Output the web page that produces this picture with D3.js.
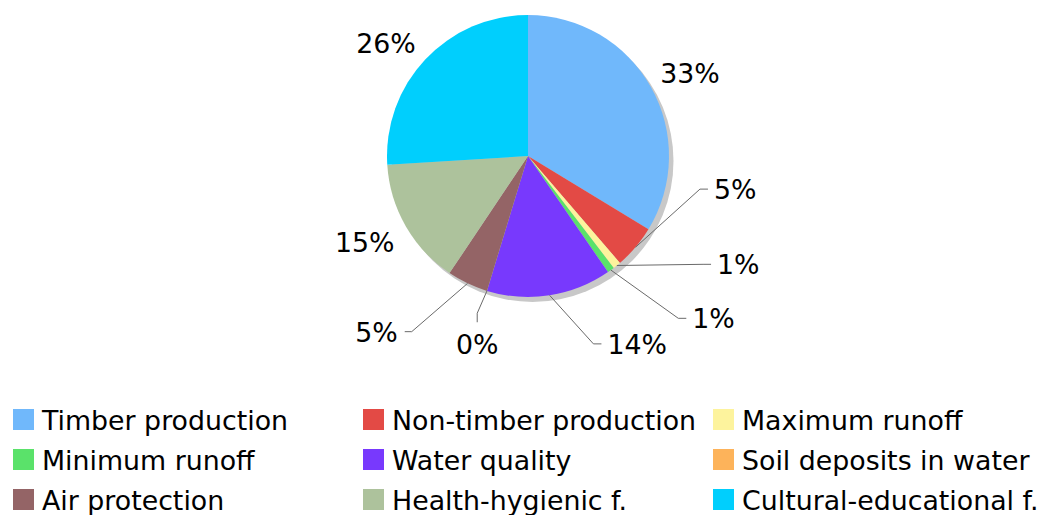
<!DOCTYPE html>
<html><head><meta charset="utf-8">
<script src="https://cdn.jsdelivr.net/npm/d3@7"></script>
<style>html,body{margin:0;padding:0;background:#fff;} svg{display:block;}</style>
</head><body><svg id="c" width="1043" height="515"></svg>
<script>
// ---- data ----
const categories = ["Timber production","Non-timber production","Maximum runoff","Minimum runoff","Water quality","Soil deposits in water","Air protection","Health-hygienic f.","Cultural-educational f."];
const values = [33.7, 5.0, 0.9, 0.8, 14.3, 0.0, 4.7, 14.6, 26.0];
const valueLabels = ["33%","5%","1%","1%","14%","0%","5%","15%","26%"];
const colors = ["#70b8fb","#e34a45","#fdf39d","#5ae26a","#7839fd","#fdb35a","#946466","#adc29c","#00cffd"];

// ---- label layout (presentation only) ----
const labelPlacement = [
  {mode:"plain"},
  {mode:"leader", angle:100.9, k:1.242, tail:"right"},
  {mode:"leader", angle:121.75, k:1.46, tail:"right"},
  {mode:"leader", angle:137.2, k:1.569, tail:"right"},
  {mode:"leader", angle:160.8, k:1.411, tail:"right"},
  {mode:"leader", angle:197.9, k:1.172, tail:"down"},
  {mode:"leader", angle:213.5, k:1.494, tail:"left"},
  {mode:"plain"},
  {mode:"plain"}
];

const W = 1043, H = 515;
const cx = 528, cy = 156, R = 141;
const FONT = "DejaVu Sans, Verdana, sans-serif";
const FS = 26.8;
const svg = d3.select("#c");

const pie = d3.pie().sort(null).value(d => d);
const arcs = pie(values);
const arc = d3.arc().innerRadius(0).outerRadius(R);

const g = svg.append("g").attr("transform", `translate(${cx},${cy})`);
// shadow
g.append("circle").attr("cx", 4.5).attr("cy", 5).attr("r", R).attr("fill", "#c8c8c8");
g.selectAll("path.slice").data(arcs.filter(d => d.value > 0)).enter().append("path")
  .attr("class","slice")
  .attr("d", arc)
  .attr("fill", d => colors[d.index]);

function pt(deg, rad) {
  const a = deg * Math.PI / 180;
  return [rad * Math.sin(a), -rad * Math.cos(a)];
}

const lab = svg.append("g").attr("transform", `translate(${cx},${cy})`)
  .style("font-family", FONT).style("font-size", FS + "px");

arcs.forEach((d, i) => {
  const mid = (d.startAngle + d.endAngle) / 2 * 180 / Math.PI;
  const p = labelPlacement[i];
  if (p.mode === "plain") {
    const [x, y] = pt(mid, 154);
    const right = Math.sin(mid * Math.PI / 180) > 0;
    const upper = Math.cos(mid * Math.PI / 180) > 0;
    lab.append("text").attr("x", right ? x - 2 : x).attr("y", upper ? y + 2 : y + 19.5)
      .attr("text-anchor", right ? "start" : "end").attr("fill", "#000")
      .text(valueLabels[i]);
  } else {
    const s = pt(mid, R);
    const e = pt(p.angle, p.k * R);
    let t, tx, ty, anchor;
    if (p.tail === "right") { t = [e[0] + 8, e[1]]; tx = t[0] + 6; ty = e[1] + 10; anchor = "start"; }
    else if (p.tail === "left") { t = [e[0] - 7, e[1]]; tx = t[0] - 7; ty = e[1] + 10; anchor = "end"; }
    else { t = [e[0], e[1] + 9]; tx = e[0]; ty = t[1] + 12 + 19.5; anchor = "middle"; }
    lab.append("polyline").attr("points", [s, e, t].map(q => q.join(",")).join(" "))
      .attr("fill", "none").attr("stroke", "#6a6a6a").attr("stroke-width", 1);
    lab.append("text").attr("x", tx).attr("y", ty).attr("text-anchor", anchor)
      .attr("fill", "#000").text(valueLabels[i]);
  }
});

// ---- legend ----
const colX = d3.scaleLinear().domain([0, 1]).range([13, 363]);
const rowY = d3.scaleLinear().domain([0, 1]).range([409, 449]);
const leg = svg.append("g").style("font-family", FONT).style("font-size", FS + "px");
categories.forEach((c, i) => {
  const col = i % 3, row = Math.floor(i / 3);
  const x = colX(col), y = rowY(row);
  leg.append("rect").attr("x", x).attr("y", y).attr("width", 21).attr("height", 21)
    .attr("fill", colors[i]);
  leg.append("text").attr("x", x + 29).attr("y", y + 21).attr("fill", "#000").text(c);
});
</script>
</body></html>
